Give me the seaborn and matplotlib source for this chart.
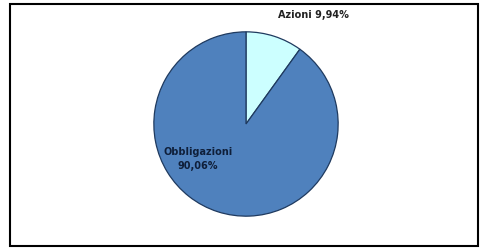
import matplotlib
matplotlib.use("Agg")
import matplotlib.pyplot as plt
import seaborn as sns
from matplotlib.patches import Rectangle

# Data
categories = ["Azioni", "Obbligazioni"]
shares = [9.94, 90.06]
share_labels = ["9,94%", "90,06%"]
slice_colors = ["#CCFFFF", "#4F81BD"]

sns.set_theme(style="white")
plt.rcParams['font.family'] = ['DejaVu Sans']

fig = plt.figure(figsize=(4.83, 2.51), dpi=100)
fig.patch.set_facecolor("white")

# outer frame
fig.patches.append(Rectangle((10 / 483, 4 / 251), 468 / 483, 242 / 251,
                             transform=fig.transFigure, fill=False,
                             edgecolor="black", linewidth=1.5))

ax = fig.add_axes([152 / 483, (251 - 219) / 251, 188 / 483, 188 / 251])
wedges, _ = ax.pie(shares, colors=slice_colors, startangle=90, counterclock=False,
                   wedgeprops=dict(edgecolor="#1F3A5F", linewidth=0.9))
ax.set_xlim(-1.02, 1.02)
ax.set_ylim(-1.02, 1.02)
ax.set_aspect("equal")

ax.text(0.73, 1.19, f"{categories[0]} {share_labels[0]}", ha="center", va="center",
        fontsize=7, fontweight="bold", color="#222222", clip_on=False)
ax.text(-0.52, -0.37, f"{categories[1]}\n{share_labels[1]}", ha="center", va="center",
        fontsize=7, fontweight="bold", color="#0F1F3A", linespacing=1.6, clip_on=False)

fig.savefig("out.png", dpi=100, facecolor="white")
